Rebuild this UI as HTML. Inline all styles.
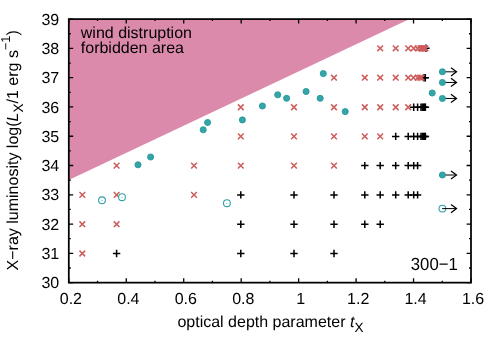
<!DOCTYPE html>
<html><head><meta charset="utf-8"><title>chart</title>
<style>html,body{margin:0;padding:0;background:#fff}svg{display:block;will-change:transform}text{font-family:"Liberation Sans",sans-serif;font-size:16px;fill:#000;text-rendering:geometricPrecision}</style>
</head><body>
<svg width="500" height="350" viewBox="0 0 500 350">
<rect width="500" height="350" fill="#fff"/>
<polygon points="68.8,19.1 409.6,19.1 68.8,180.0" fill="#dc8aab"/>
<path d="M68.80,282.65v-4.4M68.80,19.1v4.4M97.53,282.65v-2.0M97.53,19.1v2.0M126.26,282.65v-4.4M126.26,19.1v4.4M154.99,282.65v-2.0M154.99,19.1v2.0M183.71,282.65v-4.4M183.71,19.1v4.4M212.44,282.65v-2.0M212.44,19.1v2.0M241.17,282.65v-4.4M241.17,19.1v4.4M269.90,282.65v-2.0M269.90,19.1v2.0M298.63,282.65v-4.4M298.63,19.1v4.4M327.36,282.65v-2.0M327.36,19.1v2.0M356.09,282.65v-4.4M356.09,19.1v4.4M384.81,282.65v-2.0M384.81,19.1v2.0M413.54,282.65v-4.4M413.54,19.1v4.4M442.27,282.65v-2.0M442.27,19.1v2.0M471.00,282.65v-4.4M471.00,19.1v4.4M68.8,282.65h4.4M471.0,282.65h-4.4M68.8,268.01h2.0M471.0,268.01h-2.0M68.8,253.37h4.4M471.0,253.37h-4.4M68.8,238.72h2.0M471.0,238.72h-2.0M68.8,224.08h4.4M471.0,224.08h-4.4M68.8,209.44h2.0M471.0,209.44h-2.0M68.8,194.80h4.4M471.0,194.80h-4.4M68.8,180.16h2.0M471.0,180.16h-2.0M68.8,165.52h4.4M471.0,165.52h-4.4M68.8,150.88h2.0M471.0,150.88h-2.0M68.8,136.23h4.4M471.0,136.23h-4.4M68.8,121.59h2.0M471.0,121.59h-2.0M68.8,106.95h4.4M471.0,106.95h-4.4M68.8,92.31h2.0M471.0,92.31h-2.0M68.8,77.67h4.4M471.0,77.67h-4.4M68.8,63.03h2.0M471.0,63.03h-2.0M68.8,48.38h4.4M471.0,48.38h-4.4M68.8,33.74h2.0M471.0,33.74h-2.0M68.8,19.10h4.4M471.0,19.10h-4.4" stroke="#000" stroke-width="1.3" fill="none"/>
<g stroke="#000" stroke-width="1.5" fill="none">
<path d="M112.90,253.50h7.4M116.60,249.80v7.4"/>
<path d="M237.10,253.50h7.4M240.80,249.80v7.4"/>
<path d="M290.30,253.50h7.4M294.00,249.80v7.4"/>
<path d="M330.30,253.50h7.4M334.00,249.80v7.4"/>
<path d="M237.10,224.20h7.4M240.80,220.50v7.4"/>
<path d="M290.30,224.20h7.4M294.00,220.50v7.4"/>
<path d="M330.30,224.20h7.4M334.00,220.50v7.4"/>
<path d="M361.10,224.20h7.4M364.80,220.50v7.4"/>
<path d="M376.50,224.20h7.4M380.20,220.50v7.4"/>
<path d="M237.10,194.90h7.4M240.80,191.20v7.4"/>
<path d="M290.30,194.90h7.4M294.00,191.20v7.4"/>
<path d="M330.30,194.90h7.4M334.00,191.20v7.4"/>
<path d="M361.10,194.90h7.4M364.80,191.20v7.4"/>
<path d="M376.50,194.90h7.4M380.20,191.20v7.4"/>
<path d="M392.00,194.90h7.4M395.70,191.20v7.4"/>
<path d="M404.50,194.90h7.4M408.20,191.20v7.4"/>
<path d="M410.00,194.90h7.4M413.70,191.20v7.4"/>
<path d="M413.90,194.90h7.4M417.60,191.20v7.4"/>
<path d="M361.10,165.60h7.4M364.80,161.90v7.4"/>
<path d="M376.50,165.60h7.4M380.20,161.90v7.4"/>
<path d="M392.00,165.60h7.4M395.70,161.90v7.4"/>
<path d="M404.50,165.60h7.4M408.20,161.90v7.4"/>
<path d="M410.00,165.60h7.4M413.70,161.90v7.4"/>
<path d="M413.90,165.60h7.4M417.60,161.90v7.4"/>
<path d="M392.00,136.40h7.4M395.70,132.70v7.4"/>
<path d="M404.50,136.40h7.4M408.20,132.70v7.4"/>
<path d="M410.00,136.40h7.4M413.70,132.70v7.4"/>
<path d="M413.90,136.40h7.4M417.60,132.70v7.4"/>
<path d="M417.30,136.40h7.4M421.00,132.70v7.4"/>
<path d="M418.70,136.40h7.4M422.40,132.70v7.4"/>
<path d="M419.90,136.40h7.4M423.60,132.70v7.4"/>
<path d="M420.90,136.40h7.4M424.60,132.70v7.4"/>
<path d="M421.70,136.40h7.4M425.40,132.70v7.4"/>
<path d="M410.00,107.25h7.4M413.70,103.55v7.4"/>
<path d="M413.90,107.25h7.4M417.60,103.55v7.4"/>
<path d="M417.30,107.25h7.4M421.00,103.55v7.4"/>
<path d="M418.70,107.25h7.4M422.40,103.55v7.4"/>
<path d="M419.90,107.25h7.4M423.60,103.55v7.4"/>
<path d="M420.90,107.25h7.4M424.60,103.55v7.4"/>
<path d="M421.70,107.25h7.4M425.40,103.55v7.4"/>
<path d="M420.30,77.70h7.4M424.00,74.00v7.4"/>
<path d="M421.60,77.70h7.4M425.30,74.00v7.4"/>
<path d="M422.20,48.30h7.4M425.90,44.60v7.4"/>
</g>
<g stroke="#cd5c5c" stroke-width="1.5" fill="none">
<path d="M79.45,250.65l5.7,5.7m0,-5.7l-5.7,5.7"/>
<path d="M79.45,221.35l5.7,5.7m0,-5.7l-5.7,5.7"/>
<path d="M113.75,221.35l5.7,5.7m0,-5.7l-5.7,5.7"/>
<path d="M79.45,192.05l5.7,5.7m0,-5.7l-5.7,5.7"/>
<path d="M113.75,192.05l5.7,5.7m0,-5.7l-5.7,5.7"/>
<path d="M191.15,192.05l5.7,5.7m0,-5.7l-5.7,5.7"/>
<path d="M113.75,162.75l5.7,5.7m0,-5.7l-5.7,5.7"/>
<path d="M191.15,162.75l5.7,5.7m0,-5.7l-5.7,5.7"/>
<path d="M237.95,162.75l5.7,5.7m0,-5.7l-5.7,5.7"/>
<path d="M291.15,162.75l5.7,5.7m0,-5.7l-5.7,5.7"/>
<path d="M331.15,162.75l5.7,5.7m0,-5.7l-5.7,5.7"/>
<path d="M237.95,133.55l5.7,5.7m0,-5.7l-5.7,5.7"/>
<path d="M291.15,133.55l5.7,5.7m0,-5.7l-5.7,5.7"/>
<path d="M331.15,133.55l5.7,5.7m0,-5.7l-5.7,5.7"/>
<path d="M361.95,133.55l5.7,5.7m0,-5.7l-5.7,5.7"/>
<path d="M377.35,133.55l5.7,5.7m0,-5.7l-5.7,5.7"/>
<path d="M237.95,104.40l5.7,5.7m0,-5.7l-5.7,5.7"/>
<path d="M291.15,104.40l5.7,5.7m0,-5.7l-5.7,5.7"/>
<path d="M331.15,104.40l5.7,5.7m0,-5.7l-5.7,5.7"/>
<path d="M361.95,104.40l5.7,5.7m0,-5.7l-5.7,5.7"/>
<path d="M377.35,104.40l5.7,5.7m0,-5.7l-5.7,5.7"/>
<path d="M392.85,104.40l5.7,5.7m0,-5.7l-5.7,5.7"/>
<path d="M405.35,104.40l5.7,5.7m0,-5.7l-5.7,5.7"/>
<path d="M331.15,74.85l5.7,5.7m0,-5.7l-5.7,5.7"/>
<path d="M361.95,74.85l5.7,5.7m0,-5.7l-5.7,5.7"/>
<path d="M377.35,74.85l5.7,5.7m0,-5.7l-5.7,5.7"/>
<path d="M392.85,74.85l5.7,5.7m0,-5.7l-5.7,5.7"/>
<path d="M405.35,74.85l5.7,5.7m0,-5.7l-5.7,5.7"/>
<path d="M410.65,74.85l5.7,5.7m0,-5.7l-5.7,5.7"/>
<path d="M414.85,74.85l5.7,5.7m0,-5.7l-5.7,5.7"/>
<path d="M417.25,74.85l5.7,5.7m0,-5.7l-5.7,5.7"/>
<path d="M418.65,74.85l5.7,5.7m0,-5.7l-5.7,5.7"/>
<path d="M377.35,45.45l5.7,5.7m0,-5.7l-5.7,5.7"/>
<path d="M392.85,45.45l5.7,5.7m0,-5.7l-5.7,5.7"/>
<path d="M405.35,45.45l5.7,5.7m0,-5.7l-5.7,5.7"/>
<path d="M410.85,45.45l5.7,5.7m0,-5.7l-5.7,5.7"/>
<path d="M414.75,45.45l5.7,5.7m0,-5.7l-5.7,5.7"/>
<path d="M417.65,45.45l5.7,5.7m0,-5.7l-5.7,5.7"/>
<path d="M418.75,45.45l5.7,5.7m0,-5.7l-5.7,5.7"/>
<path d="M419.65,45.45l5.7,5.7m0,-5.7l-5.7,5.7"/>
<path d="M420.45,45.45l5.7,5.7m0,-5.7l-5.7,5.7"/>
<path d="M421.05,45.45l5.7,5.7m0,-5.7l-5.7,5.7"/>
<path d="M421.95,45.45l5.7,5.7m0,-5.7l-5.7,5.7"/>
<path d="M422.55,45.45l5.7,5.7m0,-5.7l-5.7,5.7"/>
</g>
<circle cx="102.0" cy="200.3" r="3.4" fill="#fff" stroke="#2fa0a5" stroke-width="1.1"/><circle cx="102.0" cy="200.3" r="0.55" fill="#2fa0a5"/>
<circle cx="122.0" cy="197.2" r="3.4" fill="#fff" stroke="#2fa0a5" stroke-width="1.1"/><circle cx="122.0" cy="197.2" r="0.55" fill="#2fa0a5"/>
<circle cx="226.9" cy="203.2" r="3.4" fill="#fff" stroke="#2fa0a5" stroke-width="1.1"/><circle cx="226.9" cy="203.2" r="0.55" fill="#2fa0a5"/>
<circle cx="442.4" cy="208.6" r="3.4" fill="#fff" stroke="#2fa0a5" stroke-width="1.1"/><circle cx="442.4" cy="208.6" r="0.55" fill="#2fa0a5"/>
<path d="M442.40,71.80h13.8" stroke="#000" stroke-width="1" fill="none"/>
<path d="M451.00,67.70l5.5,4.1l-5.5,4.1" stroke="#000" stroke-width="1.25" fill="none"/>
<path d="M442.40,82.45h13.8" stroke="#000" stroke-width="1" fill="none"/>
<path d="M451.00,78.35l5.5,4.1l-5.5,4.1" stroke="#000" stroke-width="1.25" fill="none"/>
<path d="M442.40,98.45h13.8" stroke="#000" stroke-width="1" fill="none"/>
<path d="M451.00,94.35l5.5,4.1l-5.5,4.1" stroke="#000" stroke-width="1.25" fill="none"/>
<path d="M442.40,175.00h13.8" stroke="#000" stroke-width="1" fill="none"/>
<path d="M451.00,170.90l5.5,4.1l-5.5,4.1" stroke="#000" stroke-width="1.25" fill="none"/>
<path d="M442.40,208.60h13.8" stroke="#000" stroke-width="1" fill="none"/>
<path d="M451.00,204.50l5.5,4.1l-5.5,4.1" stroke="#000" stroke-width="1.25" fill="none"/>
<circle cx="138" cy="164.8" r="3.05" fill="#36a5a8" stroke="#23979c" stroke-width="0.9"/>
<circle cx="150.6" cy="157.0" r="3.05" fill="#36a5a8" stroke="#23979c" stroke-width="0.9"/>
<circle cx="203.2" cy="129.8" r="3.05" fill="#36a5a8" stroke="#23979c" stroke-width="0.9"/>
<circle cx="207.6" cy="122.5" r="3.05" fill="#36a5a8" stroke="#23979c" stroke-width="0.9"/>
<circle cx="242.4" cy="119.9" r="3.05" fill="#36a5a8" stroke="#23979c" stroke-width="0.9"/>
<circle cx="262.4" cy="106" r="3.05" fill="#36a5a8" stroke="#23979c" stroke-width="0.9"/>
<circle cx="277.7" cy="94.8" r="3.05" fill="#36a5a8" stroke="#23979c" stroke-width="0.9"/>
<circle cx="286.6" cy="98.3" r="3.05" fill="#36a5a8" stroke="#23979c" stroke-width="0.9"/>
<circle cx="306.1" cy="91.5" r="3.05" fill="#36a5a8" stroke="#23979c" stroke-width="0.9"/>
<circle cx="323.3" cy="73.6" r="3.05" fill="#36a5a8" stroke="#23979c" stroke-width="0.9"/>
<circle cx="320.2" cy="98.3" r="3.05" fill="#36a5a8" stroke="#23979c" stroke-width="0.9"/>
<circle cx="345.2" cy="111.6" r="3.05" fill="#36a5a8" stroke="#23979c" stroke-width="0.9"/>
<circle cx="432.2" cy="93.0" r="3.05" fill="#36a5a8" stroke="#23979c" stroke-width="0.9"/>
<circle cx="442.4" cy="71.8" r="3.05" fill="#36a5a8" stroke="#23979c" stroke-width="0.9"/>
<circle cx="442.4" cy="82.45" r="3.05" fill="#36a5a8" stroke="#23979c" stroke-width="0.9"/>
<circle cx="442.4" cy="98.45" r="3.05" fill="#36a5a8" stroke="#23979c" stroke-width="0.9"/>
<circle cx="442.4" cy="175.0" r="3.05" fill="#36a5a8" stroke="#23979c" stroke-width="0.9"/>
<rect x="68.8" y="19.1" width="402.2" height="263.54999999999995" fill="none" stroke="#000" stroke-width="1.75"/>
<text x="59.2" y="288.1" text-anchor="end">30</text>
<text x="59.2" y="258.9" text-anchor="end">31</text>
<text x="59.2" y="229.6" text-anchor="end">32</text>
<text x="59.2" y="200.3" text-anchor="end">33</text>
<text x="59.2" y="171.0" text-anchor="end">34</text>
<text x="59.2" y="141.7" text-anchor="end">35</text>
<text x="59.2" y="112.5" text-anchor="end">36</text>
<text x="59.2" y="83.2" text-anchor="end">37</text>
<text x="59.2" y="53.9" text-anchor="end">38</text>
<text x="59.2" y="24.6" text-anchor="end">39</text>
<text x="70.9" y="303.6" text-anchor="middle">0.2</text>
<text x="128.4" y="303.6" text-anchor="middle">0.4</text>
<text x="185.8" y="303.6" text-anchor="middle">0.6</text>
<text x="243.3" y="303.6" text-anchor="middle">0.8</text>
<text x="300.7" y="303.6" text-anchor="middle">1</text>
<text x="358.2" y="303.6" text-anchor="middle">1.2</text>
<text x="415.6" y="303.6" text-anchor="middle">1.4</text>
<text x="473.1" y="303.6" text-anchor="middle">1.6</text>
<text x="80.8" y="37.9">wind distruption</text>
<text x="80.8" y="53.3">forbidden area</text>
<text transform="translate(457.7,270) scale(1,1.055)" text-anchor="end" style="font-size:16.7px">300−1</text>
<text x="177.4" y="326.6">optical depth parameter <tspan font-style="italic">t</tspan><tspan dy="5" font-size="13.6">X</tspan></text>
<text transform="translate(18.2,270.4) rotate(-90)">X−ray luminosity log(<tspan font-style="italic">L</tspan><tspan dy="4.7" font-size="13.6">X</tspan><tspan dy="-4.7">/1 erg s</tspan><tspan dy="-8" font-size="12.8">−1</tspan><tspan dy="8">)</tspan></text>
</svg>
</body></html>
